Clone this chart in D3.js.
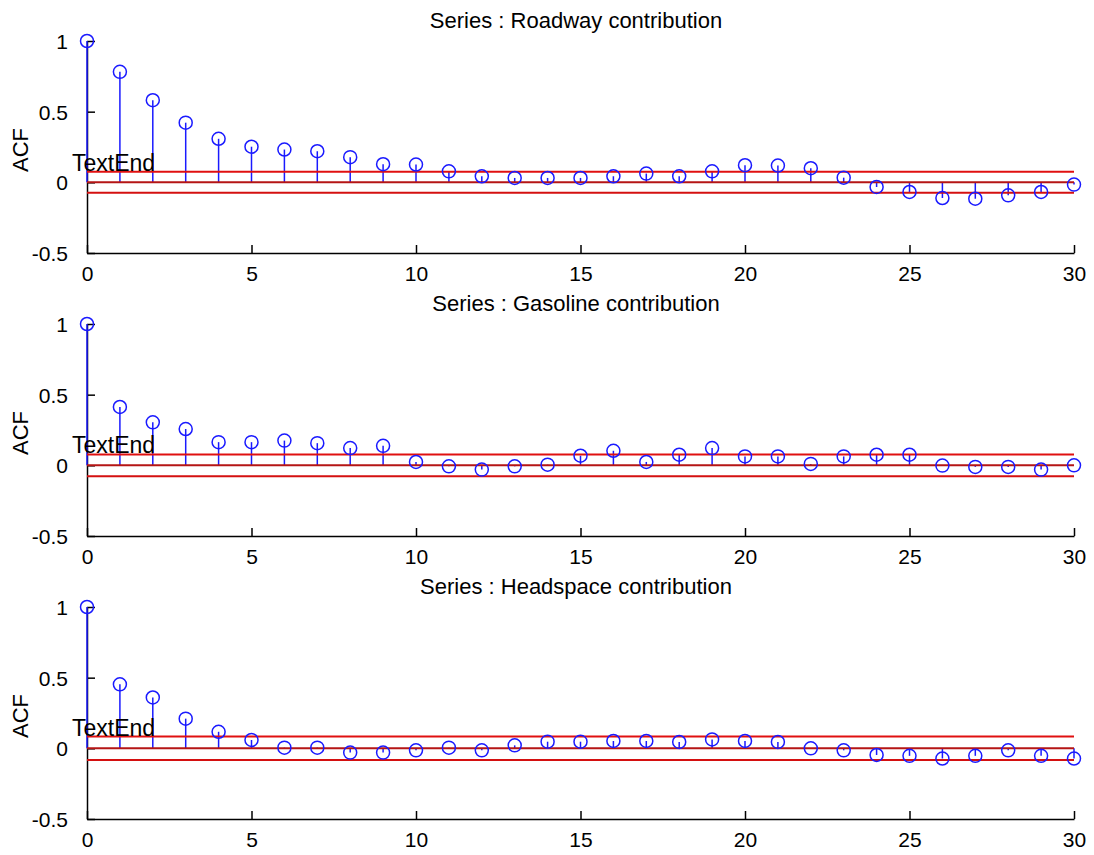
<!DOCTYPE html>
<html>
<head>
<meta charset="utf-8">
<script src="https://cdn.jsdelivr.net/npm/d3@7"></script>
<style>
  body { margin: 0; background: #fff; }
  text { font-family: "Liberation Sans", Arial, sans-serif; fill: #000; }
</style>
</head>
<body>
<div id="chart"></div>
<script>
// ACF values, lags 0..30
var lags = d3.range(0, 31);

var roadway = [1.0, 0.782, 0.581, 0.422, 0.308, 0.252, 0.232, 0.220, 0.178, 0.128,
  0.126, 0.078, 0.043, 0.031, 0.031, 0.031, 0.043, 0.062, 0.043, 0.078,
  0.121, 0.119, 0.100, 0.033, -0.033, -0.068, -0.111, -0.116, -0.092, -0.068, -0.016];

var gasoline = [1.0, 0.413, 0.304, 0.257, 0.164, 0.164, 0.175, 0.157, 0.122, 0.138,
  0.024, -0.007, -0.030, -0.007, 0.005, 0.068, 0.103, 0.024, 0.075, 0.122,
  0.063, 0.063, 0.010, 0.063, 0.075, 0.075, -0.002, -0.011, -0.011, -0.030, 0.0];

var headspace = [1.0, 0.453, 0.360, 0.210, 0.117, 0.059, 0.005, 0.005, -0.030, -0.030,
  -0.014, 0.005, -0.014, 0.021, 0.047, 0.047, 0.052, 0.052, 0.045, 0.063,
  0.052, 0.045, 0.0, -0.014, -0.047, -0.053, -0.072, -0.053, -0.014, -0.053, -0.072];

// confidence bounds (+/-) for each panel
var bounds = [0.074, 0.077, 0.083];

var titles = ["Series : Roadway contribution", "Series : Gasoline contribution", "Series : Headspace contribution"];
var series = [roadway, gasoline, headspace];

var xTicks = [0, 5, 10, 15, 20, 25, 30];
var yTicks = [-0.5, 0, 0.5, 1];

var svgWidth = 1094;
var svgHeight = 855;

var svg = d3.select("#chart")
  .append("svg")
  .attr("width", svgWidth)
  .attr("height", svgHeight);

// panel tops in pixels
var panelTop = [41, 324, 607];
var panelHeight = 212;
var left = 87;
var right = 1074;

var xScale = d3.scaleLinear()
  .domain([0, 30])
  .range([left, right]);

// plain hyphen for negatives, like the original
function fmt(d) {
  return String(d);
}

series.forEach(function(vals, i) {
  var top = panelTop[i];
  var bottom = top + panelHeight;

  var yScale = d3.scaleLinear()
    .domain([-0.5, 1])
    .range([bottom, top]);

  var g = svg.append("g");

  // bottom axis, ticks pointing inward
  var xAxis = d3.axisBottom(xScale)
    .tickValues(xTicks)
    .tickSizeInner(-8)
    .tickSizeOuter(0)
    .tickPadding(13)
    .tickFormat(fmt);

  var xg = g.append("g")
    .attr("transform", `translate(0, ${bottom})`)
    .call(xAxis);

  // left axis, ticks pointing inward
  var yAxis = d3.axisLeft(yScale)
    .tickValues(yTicks)
    .tickSizeInner(-8)
    .tickSizeOuter(0)
    .tickPadding(19)
    .tickFormat(fmt);

  var yg = g.append("g")
    .attr("transform", `translate(${left}, 0)`)
    .call(yAxis);

  [xg, yg].forEach(function(ax) {
    ax.select(".domain").attr("stroke", "#000").attr("stroke-width", 1.5);
    ax.selectAll(".tick line").attr("stroke", "#000").attr("stroke-width", 1.5);
    ax.selectAll(".tick text")
      .attr("font-size", "21px")
      .attr("font-family", "'Liberation Sans', Arial, sans-serif")
      .attr("fill", "#000");
  });
  yg.selectAll(".tick text").attr("dy", "0.36em");

  // stems
  g.selectAll(".stem")
    .data(lags)
    .enter()
    .append("line")
    .attr("x1", d => xScale(d))
    .attr("x2", d => xScale(d))
    .attr("y1", yScale(0))
    .attr("y2", d => yScale(vals[d]))
    .attr("stroke", "#1a1aff")
    .attr("stroke-width", 1.5);

  // zero line and confidence bounds
  var hlines = [
    { v: bounds[i], c: "#e01010" },
    { v: 0, c: "#b51515" },
    { v: -bounds[i], c: "#d41010" }
  ];
  g.selectAll(".hl")
    .data(hlines)
    .enter()
    .append("line")
    .attr("x1", xScale(0))
    .attr("x2", xScale(30))
    .attr("y1", d => yScale(d.v))
    .attr("y2", d => yScale(d.v))
    .attr("stroke", d => d.c)
    .attr("stroke-width", 2);

  // markers
  g.selectAll(".mark")
    .data(lags)
    .enter()
    .append("circle")
    .attr("cx", d => xScale(d))
    .attr("cy", d => yScale(vals[d]))
    .attr("r", 6.5)
    .attr("fill", "none")
    .attr("stroke", "#1a1aff")
    .attr("stroke-width", 1.5);

  // title
  g.append("text")
    .attr("x", 576)
    .attr("y", top - 13)
    .attr("text-anchor", "middle")
    .attr("font-size", "22px")
    .text(titles[i]);

  // y label
  g.append("text")
    .attr("transform", `translate(28, ${(top + bottom) / 2 + 3}) rotate(-90)`)
    .attr("text-anchor", "middle")
    .attr("font-size", "22px")
    .text("ACF");

  // stray label sitting on the upper bound
  g.append("text")
    .attr("x", left - 15)
    .attr("y", yScale(bounds[i]) - 1)
    .attr("font-size", "23px")
    .text("TextEnd");
});
</script>
</body>
</html>
